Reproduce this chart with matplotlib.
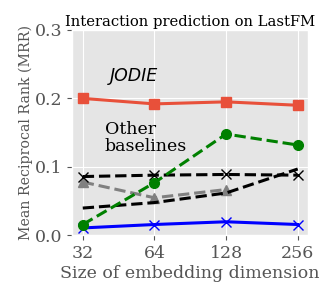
import numpy as np
import matplotlib
matplotlib.use("Agg")
import matplotlib.pyplot as plt

dims = ["32", "64", "128", "256"]
jodie = [0.200, 0.192, 0.195, 0.190]
green_base = [0.016, 0.077, 0.148, 0.132]
black_x = [0.086, 0.088, 0.089, 0.088]
gray_tri = [0.078, 0.055, 0.067]
black_plain = [0.040, 0.048, 0.062, 0.097]
blue_x = [0.011, 0.016, 0.020, 0.016]

plt.style.use("ggplot")
plt.rcParams["font.family"] = "DejaVu Serif"

fig, ax = plt.subplots(figsize=(3.23, 2.82), dpi=100)
x = np.arange(len(dims))

ax.plot(x, jodie, color="#e8503a", marker="s", markersize=7, linewidth=2.2)
ax.plot(x, blue_x, color="blue", marker="x", markersize=7, linewidth=2.2)
ax.plot(x[:3], gray_tri, color="gray", marker="^", markersize=7, linewidth=2.2, linestyle="--")
ax.plot(x, black_plain, color="black", linewidth=2.2, linestyle="--")
ax.plot(x, black_x, color="black", marker="x", markersize=7, linewidth=2.2, linestyle="--")
ax.plot(x, green_base, color="green", marker="o", markersize=7, linewidth=2.2, linestyle="--")

ax.text(0.38, 0.232, "JODIE", family="DejaVu Sans", style="italic", fontsize=12.5,
        va="center")
ax.text(0.31, 0.142, "Other\nbaselines", fontsize=12.5, linespacing=1.05, va="center")

ax.set_xticks(x)
ax.set_xticklabels(dims)
ax.set_xlim(-0.15, 3.15)
ax.set_ylim(0, 0.3)
ax.set_yticks([0, 0.1, 0.2, 0.3])
ax.set_yticklabels(["0.0", "0.1", "0.2", "0.3"])
ax.tick_params(labelsize=12.5, colors="#555555")
ax.set_xlabel("Size of embedding dimension", fontsize=12.5, color="#555555", labelpad=2)
ax.set_ylabel("Mean Reciprocal Rank (MRR)", fontsize=10.2, color="#555555", labelpad=1)
ax.set_title("Interaction prediction on LastFM", fontsize=10.6, pad=3)

fig.subplots_adjust(left=0.223, right=0.955, top=0.894, bottom=0.165)
fig.savefig("out.png", dpi=100)
